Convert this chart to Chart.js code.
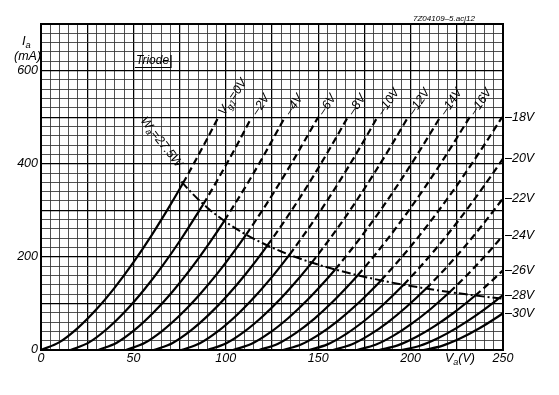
<!DOCTYPE html>
<html>
<head>
<meta charset="utf-8">
<script src="https://cdn.jsdelivr.net/npm/chart.js@4"></script>
<style>
  html, body { margin: 0; background: #fff; }
</style>
</head>
<body>
<canvas id="c" width="559" height="395"></canvas>
<script>
// grid voltages of the curve family (V)
const gridVolts = [0, -2, -4, -6, -8, -10, -12, -14, -16, -18, -20, -22, -24, -26, -28, -30];

// anode characteristics, [Va (V), Ia (mA)]
const g0 = [[0, 0], [10, 16.8], [20, 47.6], [30, 87.4], [40, 134.6], [50, 188.1], [60, 247.3], [70, 311.6], [76.8, 358], [80, 380.7], [90, 454.2], [96, 500]];
const g2 = [[16, 0], [26, 16.3], [36, 46.1], [46, 84.6], [56, 130.3], [66, 182.1], [76, 239.4], [86, 301.6], [87.8, 313], [96, 368.5], [106, 439.7], [114, 500]];
const g4 = [[31, 0], [41, 15.6], [51, 44.1], [61, 81], [71, 124.7], [81, 174.3], [91, 229.1], [99.2, 277.4], [101, 288.8], [111, 352.7], [121, 420.9], [132, 500]];
const g6 = [[46, 0], [56, 15], [66, 42.3], [76, 77.7], [86, 119.7], [96, 167.2], [106, 219.9], [111, 247.8], [116, 277], [126, 338.4], [136, 403.8], [146, 472.5], [150, 500]];
const g8 = [[61, 0], [71, 14.7], [81, 41.6], [91, 76.4], [101, 117.6], [111, 164.4], [121, 216.1], [122.5, 224.5], [131, 272.4], [141, 332.7], [151, 397], [161, 465], [166, 500]];
const g10 = [[76, 0], [86, 14.5], [96, 41], [106, 75.2], [116, 115.9], [126, 161.9], [134.5, 204.7], [136, 212.9], [146, 268.2], [156, 327.7], [166, 391], [176, 458], [182, 500]];
const g12 = [[90, 0], [100, 14], [110, 39.5], [120, 72.6], [130, 111.8], [140, 156.3], [146.5, 187.7], [150, 205.4], [160, 258.9], [170, 316.3], [180, 377.4], [190, 442], [198.6, 500]];
const g14 = [[104, 0], [114, 13.3], [124, 37.7], [134, 69.3], [144, 106.8], [154, 149.2], [159.2, 172.9], [164, 196.1], [174, 247.2], [184, 301.9], [194, 360.3], [204, 422], [216, 500]];
const g16 = [[118, 0], [128, 13], [138, 36.8], [148, 67.5], [158, 104], [168, 145.3], [171.4, 160.4], [178, 191], [188, 240.7], [198, 294.1], [208, 350.9], [218, 411], [232, 500]];
const g18 = [[131, 0], [141, 12.3], [151, 34.7], [161, 63.7], [171, 98.1], [181, 137.1], [184, 149.5], [191, 180.2], [201, 227], [211, 277.3], [221, 330.9], [231, 387.6], [241, 447.2], [249.5, 500]];
const g20 = [[145, 0], [155, 12.1], [165, 34.2], [175, 62.8], [185, 96.6], [195, 135.1], [196.2, 140.1], [205, 177.6], [215, 223.7], [225, 273.3], [235, 326.2], [245, 382], [250, 411]];
const g22 = [[158, 0], [168, 11.7], [178, 33], [188, 60.6], [198, 93.4], [208.4, 132], [218, 171.5], [228, 216.1], [238, 264], [248, 315.1], [250, 325.6]];
const g24 = [[171, 0], [181, 11.1], [191, 31.3], [201, 57.5], [211, 88.6], [221.2, 124.4], [231, 162.7], [241, 204.9], [250, 245.8]];
const g26 = [[183, 0], [193, 9.9], [203, 27.9], [213, 51.3], [223, 78.9], [235, 117], [243, 145], [250, 171.1]];
const g28 = [[195, 0], [205, 9.1], [215, 25.8], [225, 47.5], [235, 73.1], [245, 102.2], [247.8, 111.2], [250, 117.9]];
const g30 = [[207, 0], [217, 8.9], [227, 25], [237, 46], [247, 70.8], [250, 79]];
const curves = [g0, g2, g4, g6, g8, g10, g12, g14, g16, g18, g20, g22, g24, g26, g28, g30];

// max anode dissipation Wa = 27.5 W
const wattLimit = 27500; // V * mA
const wattVolts = [76, 80, 90, 100, 110, 120, 130, 140, 150, 160, 170, 180, 190, 200, 210, 220, 230, 240, 250];
const wattCurrents = [361.8, 343.8, 305.6, 275, 250, 229.2, 211.5, 196.4, 183.3, 171.9, 161.8, 152.8, 144.7, 137.5, 131, 125, 119.6, 114.6, 110];
const wattLabelAt = [55, 497];

const xTicks = [0, 50, 100, 150, 200, 250];
const yTicks = [0, 200, 400, 600];

const FONT = '"Liberation Sans", Arial, sans-serif';

// draws a run of text pieces, some of them subscripted, from the current origin
function runs(ctx, parts, size) {
  let x = 0;
  for (const [t, sub] of parts) {
    ctx.font = `italic ${sub ? size * 0.72 : size}px ${FONT}`;
    ctx.fillText(t, x, sub ? size * 0.3 : 0);
    x += ctx.measureText(t).width;
  }
  return x;
}

const overAnode = (ctx) => {
  const mx = (ctx.p0.parsed.x + ctx.p1.parsed.x) / 2;
  const my = (ctx.p0.parsed.y + ctx.p1.parsed.y) / 2;
  return mx * my > wattLimit;
};

const datasets = curves.map((pts, i) => ({
  label: `Vg ${gridVolts[i]} V`,
  data: pts.map(([x, y]) => ({ x, y })),
  borderColor: "#000",
  borderWidth: 2.2,
  pointRadius: 0,
  fill: false,
  cubicInterpolationMode: "monotone",
  segment: { borderDash: (ctx) => (overAnode(ctx) ? [7, 4] : undefined) }
}));

datasets.push({
  label: "Wa = 27.5 W",
  data: wattVolts.map((v, i) => ({ x: v, y: wattCurrents[i] })),
  borderColor: "#000",
  borderWidth: 2,
  borderDash: [9, 3, 2, 3],
  pointRadius: 0,
  fill: false,
  cubicInterpolationMode: "monotone"
});

const notes = {
  id: "notes",
  afterDraw(chart) {
    const { ctx, chartArea: a, scales: { x, y } } = chart;
    ctx.save();
    ctx.strokeStyle = "#000";
    ctx.lineWidth = 2;
    ctx.strokeRect(a.left, a.top, a.right - a.left, a.bottom - a.top);

    ctx.fillStyle = "#000";
    ctx.textBaseline = "middle";
    ctx.textAlign = "left";

    curves.forEach((pts, i) => {
      const [vx, vy] = pts[pts.length - 1];
      const px = x.getPixelForValue(vx);
      const py = y.getPixelForValue(vy);
      const parts = gridVolts[i] === 0
        ? [["V", false], ["g1", true], ["=0V", false]]
        : [[`\u2013${-gridVolts[i]}V`, false]];
      ctx.save();
      if (gridVolts[i] > -18) {
        ctx.translate(px + 3, py - 3);
        ctx.rotate(-56 * Math.PI / 180);
      } else {
        ctx.translate(a.right + 2, py);
      }
      runs(ctx, parts, 12.5);
      ctx.restore();
    });

    // dissipation label along the hyperbola
    ctx.save();
    ctx.translate(x.getPixelForValue(wattLabelAt[0]), y.getPixelForValue(wattLabelAt[1]));
    ctx.rotate(52 * Math.PI / 180);
    runs(ctx, [["W", false], ["a", true], ["=27.5W", false]], 12.5);
    ctx.restore();

    // axis titles
    ctx.save();
    ctx.translate(22, 41);
    runs(ctx, [["I", false], ["a", true]], 13);
    ctx.restore();
    ctx.font = `italic 12.5px ${FONT}`;
    ctx.fillText("(mA)", 14, 57);
    ctx.save();
    ctx.translate(445, 359);
    runs(ctx, [["V", false], ["a", true], ["(V)", false]], 12.5);
    ctx.restore();

    // "Triode" tag
    ctx.font = `italic 12px ${FONT}`;
    ctx.fillText("Triode", 136, 61);
    ctx.lineWidth = 1.2;
    ctx.beginPath();
    ctx.moveTo(135, 67.5);
    ctx.lineTo(171, 67.5);
    ctx.lineTo(171, 55);
    ctx.stroke();

    // drawing number
    ctx.font = `italic 8px ${FONT}`;
    ctx.fillText("7Z04109\u20135.acj12", 413, 19);
    ctx.restore();
  }
};

new Chart(document.getElementById("c"), {
  type: "line",
  data: { datasets },
  options: {
    responsive: false,
    animation: false,
    events: [],
    layout: { padding: { top: 24, right: 56, left: 0, bottom: 0 } },
    plugins: { legend: { display: false }, tooltip: { enabled: false } },
    scales: {
      x: {
        type: "linear",
        min: 0,
        max: 250,
        afterFit: (s) => { s.height = 45; },
        border: { display: false },
        grid: {
          drawTicks: false,
          color: (c) => (c.tick && c.tick.value % 25 === 0 ? "#000" : "#333"),
          lineWidth: (c) => (c.tick && c.tick.value % 25 === 0 ? 1.25 : 0.85)
        },
        ticks: {
          stepSize: 5,
          maxTicksLimit: 200,
          autoSkip: false,
          maxRotation: 0,
          padding: 1,
          color: "#000",
          font: { family: FONT, size: 12.5, style: "italic" },
          callback: (v) => (xTicks.includes(v) ? String(v) : "")
        }
      },
      y: {
        min: 0,
        max: 700,
        afterFit: (s) => { s.width = 41; },
        border: { display: false },
        grid: {
          drawTicks: false,
          color: (c) => (c.tick && c.tick.value % 100 === 0 ? "#000" : "#333"),
          lineWidth: (c) => (c.tick && c.tick.value % 100 === 0 ? 1.25 : 0.85)
        },
        ticks: {
          stepSize: 20,
          maxTicksLimit: 200,
          autoSkip: false,
          padding: 3,
          color: "#000",
          font: { family: FONT, size: 12.5, style: "italic" },
          callback: (v) => (yTicks.includes(v) ? String(v) : "")
        }
      }
    }
  },
  plugins: [notes]
});
</script>
</body>
</html>
